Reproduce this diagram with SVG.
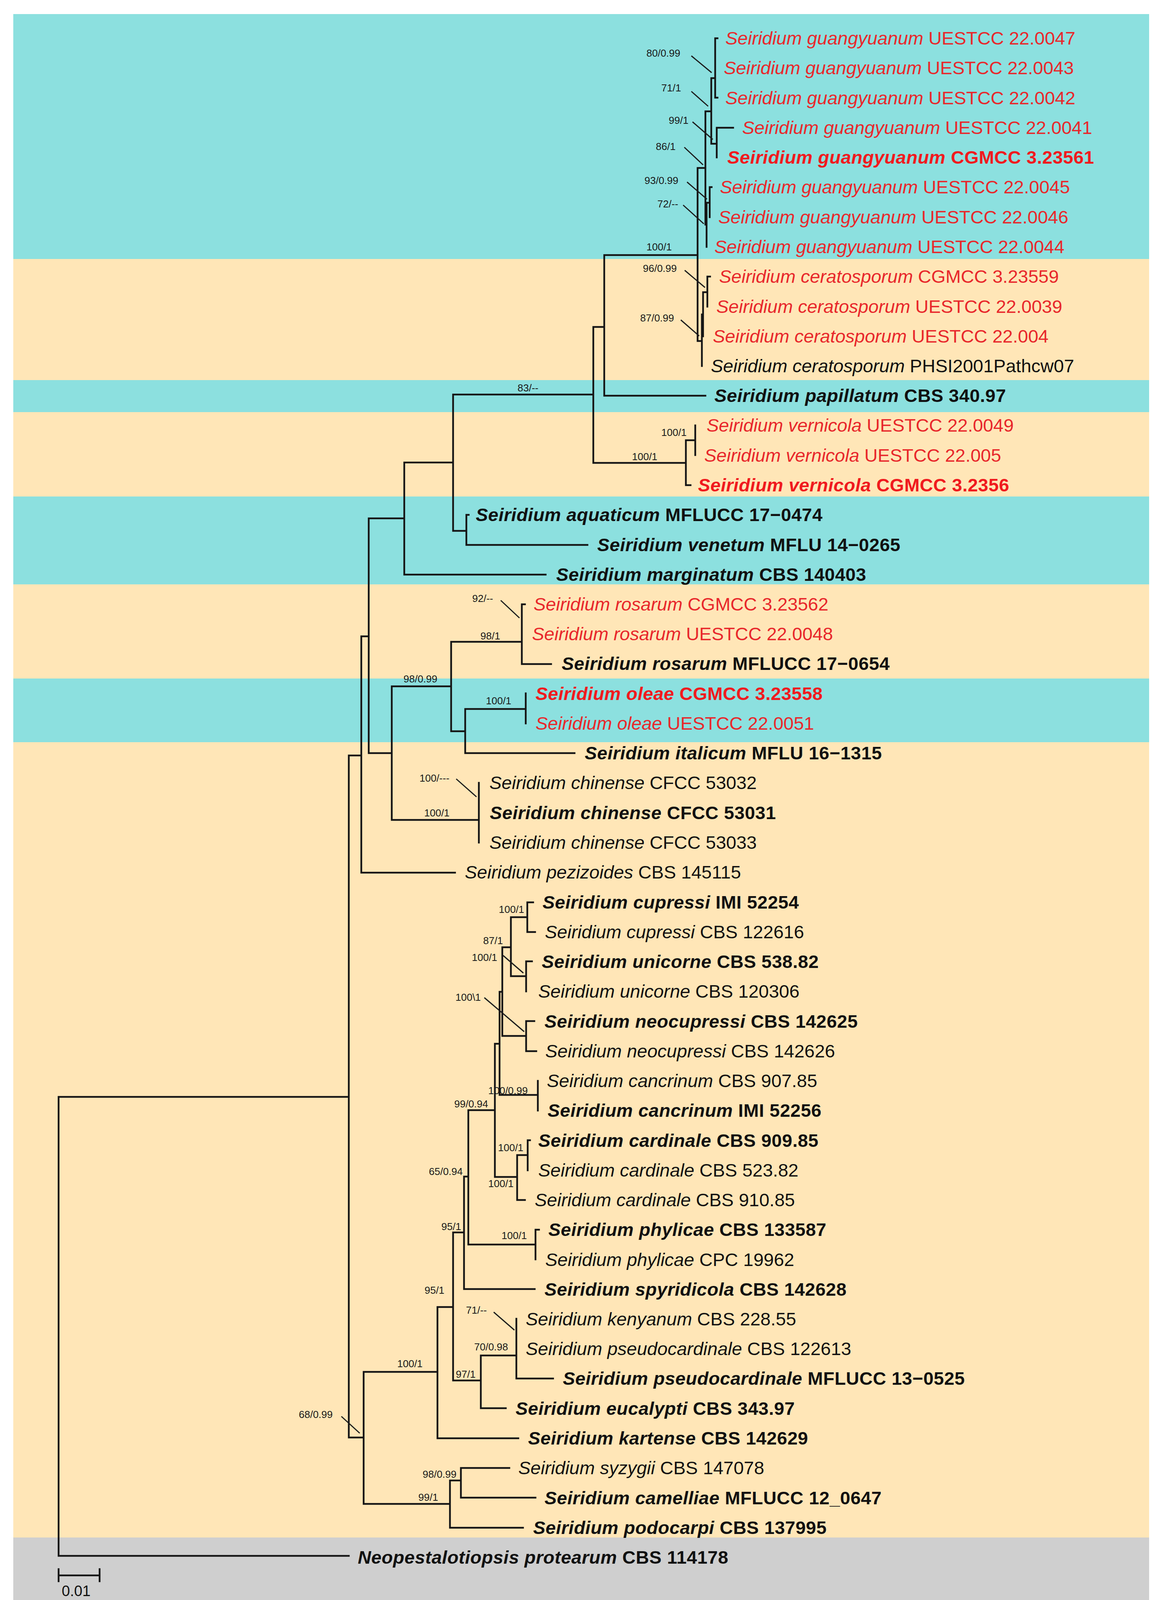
<svg xmlns="http://www.w3.org/2000/svg" width="2975" height="4145" viewBox="0 0 2975 4145">
<style>
.bc{fill:#8CE0DF}.bt{fill:#FFE6B7}.bg{fill:#CFCFCF}
.br{stroke:#151515;stroke-width:4.5;fill:none;stroke-linecap:square}
.ld{stroke:#1c1c1c;stroke-width:3;fill:none}
.tx{font-family:"Liberation Sans",Arial,sans-serif;font-size:47px}
.r{fill:#E8272B}.k{fill:#111}
.b{font-weight:bold;letter-spacing:0.5px}
.r.b{fill:#F01A1E}
.sp{font-style:italic}
.su{font-family:"Liberation Sans",Arial,sans-serif;font-size:26px;fill:#1a1a1a}
.sc{font-family:"Liberation Sans",Arial,sans-serif;font-size:38px;fill:#111}
</style>
<rect x="0" y="0" width="2975" height="4145" fill="#fff"/>
<g id="bands">
<rect class="bc" x="34" y="36" width="2908" height="627"/>
<rect class="bt" x="34" y="663" width="2908" height="310"/>
<rect class="bc" x="34" y="973" width="2908" height="82"/>
<rect class="bt" x="34" y="1055" width="2908" height="216"/>
<rect class="bc" x="34" y="1271" width="2908" height="225"/>
<rect class="bt" x="34" y="1496" width="2908" height="241"/>
<rect class="bc" x="34" y="1737" width="2908" height="163"/>
<rect class="bt" x="34" y="1900" width="2908" height="2036"/>
<rect class="bg" x="34" y="3936" width="2908" height="176"/>
</g>
<g id="connectors">
<path class="br" d="M150 2808V3983M150 2808H893M150 3983H893M893 1934V3680M893 1934H925M893 3680H931
M925 1629V2234M925 1629H944M925 2234H1165M944 1327V1928M944 1327H1035M944 1928H1003
M1035 1184V1471M1035 1184H1160M1035 1471H1397M1160 1010V1359M1160 1010H1519M1160 1359H1194
M1194 1318V1395M1194 1318H1200M1194 1395H1504M1519 837V1185M1519 837H1547M1519 1185H1756
M1547 653V1013M1547 653H1786M1547 1013H1806M1786 430V873M1786 430H1806M1786 873H1797
M1806 285V575M1806 285H1821M1806 575H1809M1821 200V368M1821 200H1831M1821 368H1835
M1831 98V250M1831 98H1837M1831 250H1837M1835 327V403M1835 327H1877
M1809 519V632M1809 519H1817M1817 479V556M1817 479H1822
M1797 805V937M1797 805H1800M1800 748V861M1800 748H1811M1811 708V785M1811 708H1818
M1756 1127V1242M1756 1127H1780M1756 1242H1768M1780 1089V1165
M1003 1757V2099M1003 1757H1155M1003 2099H1226M1226 2004V2157
M1155 1643V1872M1155 1643H1336M1155 1872H1191M1336 1547V1700M1336 1547H1344M1336 1700H1411
M1191 1815V1928M1191 1815H1346M1191 1928H1471M1346 1775V1852
M931 3512V3850M931 3512H1120M931 3850H1152M1120 3346V3682M1120 3346H1160M1120 3682H1327
M1160 3155V3534M1160 3155H1188M1160 3534H1231M1188 3012V3300M1188 3012H1199M1188 3300H1369
M1199 2842V3186M1199 2842H1267M1199 3186H1371M1371 3148V3224M1371 3148H1380
M1267 2672V3013M1267 2672H1279M1267 3013H1324M1324 2957V3072M1324 2957H1351M1324 3072H1344
M1351 2919V2996M1351 2919H1357M1279 2539V2803M1279 2539H1286M1279 2803H1377M1377 2767V2843
M1286 2425V2652M1286 2425H1308M1286 2652H1347M1347 2614V2691M1347 2614H1368M1347 2691H1373
M1308 2348V2499M1308 2348H1350M1308 2499H1347M1350 2310V2386M1350 2310H1365M1350 2386H1370
M1347 2461V2538M1347 2461H1362M1231 3470V3605M1231 3470H1322M1231 3605H1295M1322 3376V3529M1322 3529H1416
M1152 3790V3911M1152 3790H1180M1152 3911H1339M1180 3758V3834M1180 3758H1304M1180 3834H1371"/>
<path class="ld" d="M1770 143L1822 186M1770 234L1813 272M1773 312L1825 357M1752 377L1800 422M1759 466L1810 510M1749 525L1802 573
M1753 692L1805 736M1743 819L1790 860M1282 1537L1330 1582M1168 1994L1220 2040M1288 2446L1340 2491M1240 2554L1342 2641
M1264 3359L1317 3405M874 3626L921 3669"/>
<path class="br" d="M150 4033H255M150 4017V4048M255 4017V4048"/>
</g>
<g id="supports">
<text class="su" x="1655" y="145">80/0.99</text>
<text class="su" x="1693" y="234">71/1</text>
<text class="su" x="1712" y="317">99/1</text>
<text class="su" x="1679" y="384">86/1</text>
<text class="su" x="1650" y="471">93/0.99</text>
<text class="su" x="1683" y="531">72/--</text>
<text class="su" x="1655" y="641">100/1</text>
<text class="su" x="1646" y="696">96/0.99</text>
<text class="su" x="1639" y="823">87/0.99</text>
<text class="su" x="1325" y="1002">83/--</text>
<text class="su" x="1693" y="1116">100/1</text>
<text class="su" x="1618" y="1178">100/1</text>
<text class="su" x="1209" y="1541">92/--</text>
<text class="su" x="1230" y="1637">98/1</text>
<text class="su" x="1033" y="1747">98/0.99</text>
<text class="su" x="1244" y="1803">100/1</text>
<text class="su" x="1074" y="2001">100/---</text>
<text class="su" x="1086" y="2090">100/1</text>
<text class="su" x="1277" y="2337">100/1</text>
<text class="su" x="1237" y="2417">87/1</text>
<text class="su" x="1208" y="2460">100/1</text>
<text class="su" x="1166" y="2562">100\1</text>
<text class="su" x="1250" y="2801">100/0.99</text>
<text class="su" x="1163" y="2835">99/0.94</text>
<text class="su" x="1275" y="2947">100/1</text>
<text class="su" x="1098" y="3008">65/0.94</text>
<text class="su" x="1250" y="3039">100/1</text>
<text class="su" x="1130" y="3149">95/1</text>
<text class="su" x="1284" y="3172">100/1</text>
<text class="su" x="1087" y="3312">95/1</text>
<text class="su" x="1193" y="3363">71/--</text>
<text class="su" x="1214" y="3457">70/0.98</text>
<text class="su" x="1017" y="3500">100/1</text>
<text class="su" x="1167" y="3527">97/1</text>
<text class="su" x="765" y="3630">68/0.99</text>
<text class="su" x="1082" y="3783">98/0.99</text>
<text class="su" x="1071" y="3842">99/1</text>
</g>
<g id="t01"><text class="tx r" x="1857" y="114"><tspan class="sp">Seiridium guangyuanum</tspan> UESTCC 22.0047</text></g>
<g id="t02"><text class="tx r" x="1853" y="190"><tspan class="sp">Seiridium guangyuanum</tspan> UESTCC 22.0043</text></g>
<g id="t03"><text class="tx r" x="1857" y="267"><tspan class="sp">Seiridium guangyuanum</tspan> UESTCC 22.0042</text></g>
<g id="t04"><text class="tx r" x="1900" y="343"><tspan class="sp">Seiridium guangyuanum</tspan> UESTCC 22.0041</text></g>
<g id="t05"><text class="tx r b" x="1862" y="419"><tspan class="sp">Seiridium guangyuanum</tspan> CGMCC 3.23561</text></g>
<g id="t06"><text class="tx r" x="1843" y="495"><tspan class="sp">Seiridium guangyuanum</tspan> UESTCC 22.0045</text></g>
<g id="t07"><text class="tx r" x="1839" y="572"><tspan class="sp">Seiridium guangyuanum</tspan> UESTCC 22.0046</text></g>
<g id="t08"><text class="tx r" x="1829" y="648"><tspan class="sp">Seiridium guangyuanum</tspan> UESTCC 22.0044</text></g>
<g id="t09"><text class="tx r" x="1841" y="724"><tspan class="sp">Seiridium ceratosporum</tspan> CGMCC 3.23559</text></g>
<g id="t10"><text class="tx r" x="1834" y="801"><tspan class="sp">Seiridium ceratosporum</tspan> UESTCC 22.0039</text></g>
<g id="t11"><text class="tx r" x="1825" y="877"><tspan class="sp">Seiridium ceratosporum</tspan> UESTCC 22.004</text></g>
<g id="t12"><text class="tx k" x="1820" y="953"><tspan class="sp">Seiridium ceratosporum</tspan> PHSI2001Pathcw07</text></g>
<g id="t13"><text class="tx k b" x="1829" y="1029"><tspan class="sp">Seiridium papillatum</tspan> CBS 340.97</text></g>
<g id="t14"><text class="tx r" x="1809" y="1105"><tspan class="sp">Seiridium vernicola</tspan> UESTCC 22.0049</text></g>
<g id="t15"><text class="tx r" x="1803" y="1182"><tspan class="sp">Seiridium vernicola</tspan> UESTCC 22.005</text></g>
<g id="t16"><text class="tx r b" x="1787" y="1258"><tspan class="sp">Seiridium vernicola</tspan> CGMCC 3.2356</text></g>
<g id="t17"><text class="tx k b" x="1218" y="1334"><tspan class="sp">Seiridium aquaticum</tspan> MFLUCC 17−0474</text></g>
<g id="t18"><text class="tx k b" x="1529" y="1411"><tspan class="sp">Seiridium venetum</tspan> MFLU 14−0265</text></g>
<g id="t19"><text class="tx k b" x="1424" y="1487"><tspan class="sp">Seiridium marginatum</tspan> CBS 140403</text></g>
<g id="t20"><text class="tx r" x="1366" y="1563"><tspan class="sp">Seiridium rosarum</tspan> CGMCC 3.23562</text></g>
<g id="t21"><text class="tx r" x="1362" y="1639"><tspan class="sp">Seiridium rosarum</tspan> UESTCC 22.0048</text></g>
<g id="t22"><text class="tx k b" x="1438" y="1715"><tspan class="sp">Seiridium rosarum</tspan> MFLUCC 17−0654</text></g>
<g id="t23"><text class="tx r b" x="1371" y="1792"><tspan class="sp">Seiridium oleae</tspan> CGMCC 3.23558</text></g>
<g id="t24"><text class="tx r" x="1371" y="1868"><tspan class="sp">Seiridium oleae</tspan> UESTCC 22.0051</text></g>
<g id="t25"><text class="tx k b" x="1497" y="1944"><tspan class="sp">Seiridium italicum</tspan> MFLU 16−1315</text></g>
<g id="t26"><text class="tx k" x="1253" y="2020"><tspan class="sp">Seiridium chinense</tspan> CFCC 53032</text></g>
<g id="t27"><text class="tx k b" x="1254" y="2097"><tspan class="sp">Seiridium chinense</tspan> CFCC 53031</text></g>
<g id="t28"><text class="tx k" x="1253" y="2173"><tspan class="sp">Seiridium chinense</tspan> CFCC 53033</text></g>
<g id="t29"><text class="tx k" x="1190" y="2249"><tspan class="sp">Seiridium pezizoides</tspan> CBS 145115</text></g>
<g id="t30"><text class="tx k b" x="1389" y="2326"><tspan class="sp">Seiridium cupressi</tspan> IMI 52254</text></g>
<g id="t31"><text class="tx k" x="1395" y="2402"><tspan class="sp">Seiridium cupressi</tspan> CBS 122616</text></g>
<g id="t32"><text class="tx k b" x="1387" y="2478"><tspan class="sp">Seiridium unicorne</tspan> CBS 538.82</text></g>
<g id="t33"><text class="tx k" x="1378" y="2554"><tspan class="sp">Seiridium unicorne</tspan> CBS 120306</text></g>
<g id="t34"><text class="tx k b" x="1394" y="2631"><tspan class="sp">Seiridium neocupressi</tspan> CBS 142625</text></g>
<g id="t35"><text class="tx k" x="1396" y="2707"><tspan class="sp">Seiridium neocupressi</tspan> CBS 142626</text></g>
<g id="t36"><text class="tx k" x="1400" y="2783"><tspan class="sp">Seiridium cancrinum</tspan> CBS 907.85</text></g>
<g id="t37"><text class="tx k b" x="1402" y="2859"><tspan class="sp">Seiridium cancrinum</tspan> IMI 52256</text></g>
<g id="t38"><text class="tx k b" x="1378" y="2936"><tspan class="sp">Seiridium cardinale</tspan> CBS 909.85</text></g>
<g id="t39"><text class="tx k" x="1378" y="3012"><tspan class="sp">Seiridium cardinale</tspan> CBS 523.82</text></g>
<g id="t40"><text class="tx k" x="1369" y="3088"><tspan class="sp">Seiridium cardinale</tspan> CBS 910.85</text></g>
<g id="t41"><text class="tx k b" x="1404" y="3164"><tspan class="sp">Seiridium phylicae</tspan> CBS 133587</text></g>
<g id="t42"><text class="tx k" x="1396" y="3241"><tspan class="sp">Seiridium phylicae</tspan> CPC 19962</text></g>
<g id="t43"><text class="tx k b" x="1394" y="3317"><tspan class="sp">Seiridium spyridicola</tspan> CBS 142628</text></g>
<g id="t44"><text class="tx k" x="1346" y="3393"><tspan class="sp">Seiridium kenyanum</tspan> CBS 228.55</text></g>
<g id="t45"><text class="tx k" x="1346" y="3469"><tspan class="sp">Seiridium pseudocardinale</tspan> CBS 122613</text></g>
<g id="t46"><text class="tx k b" x="1441" y="3545"><tspan class="sp">Seiridium pseudocardinale</tspan> MFLUCC 13−0525</text></g>
<g id="t47"><text class="tx k b" x="1320" y="3622"><tspan class="sp">Seiridium eucalypti</tspan> CBS 343.97</text></g>
<g id="t48"><text class="tx k b" x="1352" y="3698"><tspan class="sp">Seiridium kartense</tspan> CBS 142629</text></g>
<g id="t49"><text class="tx k" x="1327" y="3774"><tspan class="sp">Seiridium syzygii</tspan> CBS 147078</text></g>
<g id="t50"><text class="tx k b" x="1394" y="3851"><tspan class="sp">Seiridium camelliae</tspan> MFLUCC 12_0647</text></g>
<g id="t51"><text class="tx k b" x="1365" y="3927"><tspan class="sp">Seiridium podocarpi</tspan> CBS 137995</text></g>
<g id="t52"><text class="tx k b" x="916" y="4003"><tspan class="sp">Neopestalotiopsis protearum</tspan> CBS 114178</text></g>
<g id="scale"><text class="sc" x="158" y="4086">0.01</text></g>
</svg>
